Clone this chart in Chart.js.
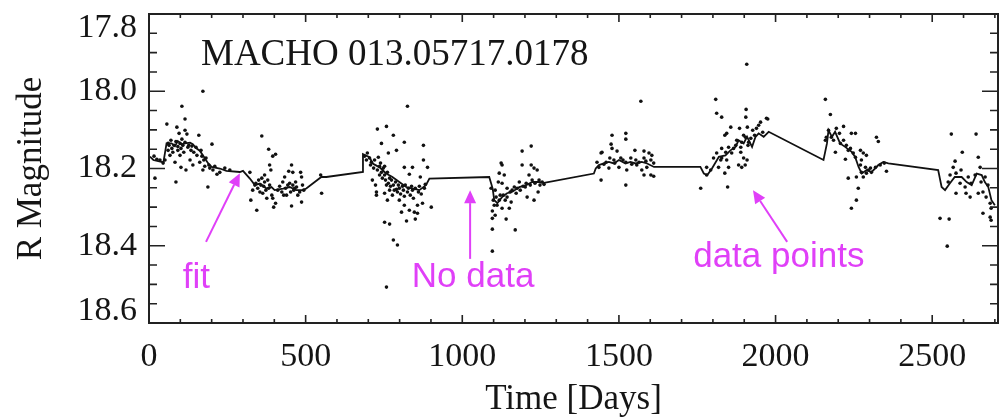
<!DOCTYPE html>
<html>
<head>
<meta charset="utf-8">
<script src="https://cdn.jsdelivr.net/npm/chart.js@4/dist/chart.umd.min.js"></script>
<style>
html,body{margin:0;padding:0;background:#fff;}
canvas{display:block;}
</style>
</head>
<body>
<canvas id="c" width="1005" height="417"></canvas>
<script>
// ---- data (day, R magnitude) ----
const season1 = [[16,18.168],[25,18.176],[19,18.225],[35,18.178],[45,18.186],[51,18.178],[57,18.085],[61,18.135],[61,18.153],[64,18.140],[67,18.166],[70,18.127],[73,18.148],[76,18.158],[80,18.140],[83,18.184],[86,18.130],[86,18.235],[89,18.093],[92,18.143],[92,18.153],[96,18.109],[99,18.135],[99,18.166],[102,18.148],[102,18.197],[105,18.039],[105,18.124],[108,18.140],[111,18.158],[115,18.072],[115,18.101],[115,18.132],[118,18.204],[121,18.111],[124,18.145],[127,18.140],[131,18.178],[134,18.153],[137,18.142],[140,18.191],[143,18.158],[150,18.145],[153,18.166],[159,18.114],[162,18.184],[166,18.153],[169,18.168],[172,18.000],[172,18.204],[175,18.178],[178,18.194],[182,18.173],[188,18.248],[191,18.191],[194,18.199],[201,18.137],[204,18.204],[210,18.194],[217,18.215],[226,18.210],[242,18.199],[258,18.204]];
const season2 = [[322,18.210],[325,18.282],[331,18.256],[338,18.243],[341,18.238],[344,18.308],[347,18.251],[350,18.230],[354,18.261],[357,18.243],[360,18.116],[360,18.225],[363,18.264],[366,18.246],[369,18.217],[369,18.235],[373,18.256],[376,18.277],[379,18.230],[382,18.150],[382,18.251],[385,18.191],[385,18.243],[389,18.204],[392,18.269],[395,18.168],[395,18.277],[398,18.300],[404,18.163],[404,18.290],[411,18.256],[417,18.246],[424,18.261],[427,18.235],[430,18.269],[433,18.222],[436,18.251],[439,18.269],[443,18.243],[446,18.207],[449,18.238],[452,18.261],[455,18.191],[455,18.297],[459,18.210],[459,18.243],[462,18.256],[465,18.251],[468,18.235],[471,18.248],[475,18.269],[481,18.261],[484,18.210],[487,18.222],[487,18.287],[490,18.243],[494,18.256],[548,18.217],[551,18.264]];
const season3 = [[688,18.168],[694,18.178],[697,18.160],[704,18.173],[707,18.191],[710,18.184],[713,18.230],[717,18.199],[720,18.178],[723,18.243],[726,18.261],[726,18.269],[729,18.098],[729,18.204],[732,18.171],[736,18.194],[736,18.217],[739,18.186],[742,18.135],[742,18.210],[745,18.225],[748,18.199],[752,18.194],[752,18.217],[752,18.264],[752,18.339],[755,18.230],[758,18.091],[758,18.243],[758,18.507],[761,18.210],[761,18.282],[764,18.160],[764,18.238],[768,18.225],[768,18.256],[768,18.344],[771,18.246],[774,18.230],[777,18.269],[780,18.114],[780,18.243],[780,18.385],[783,18.256],[787,18.235],[790,18.153],[790,18.254],[793,18.261],[793,18.398],[796,18.243],[799,18.282],[799,18.251],[803,18.266],[806,18.313],[809,18.246],[812,18.256],[815,18.132],[815,18.197],[815,18.272],[815,18.295],[818,18.243],[822,18.336],[825,18.039],[825,18.261],[828,18.251],[831,18.215],[831,18.308],[834,18.269],[838,18.246],[841,18.197],[841,18.256],[844,18.277],[847,18.313],[850,18.251],[850,18.331],[857,18.295],[857,18.316],[860,18.261],[863,18.246],[866,18.222],[869,18.266],[873,18.290],[876,18.140],[876,18.178],[879,18.251],[882,18.241],[889,18.197],[901,18.300]];
const season4 = [[1092,18.251],[1096,18.310],[1096,18.329],[1096,18.357],[1096,18.414],[1099,18.282],[1102,18.295],[1105,18.256],[1105,18.321],[1108,18.274],[1111,18.295],[1115,18.235],[1118,18.212],[1118,18.282],[1121,18.269],[1124,18.186],[1127,18.191],[1127,18.238],[1127,18.303],[1131,18.269],[1134,18.217],[1137,18.282],[1140,18.331],[1143,18.251],[1143,18.274],[1150,18.303],[1153,18.261],[1156,18.287],[1159,18.256],[1166,18.248],[1169,18.359],[1172,18.264],[1175,18.251],[1182,18.235],[1185,18.256],[1191,18.155],[1191,18.191],[1194,18.246],[1201,18.248],[1204,18.238],[1207,18.274],[1213,18.217],[1217,18.243],[1220,18.142],[1220,18.191],[1223,18.230],[1229,18.199],[1229,18.282],[1232,18.238],[1239,18.204],[1242,18.261],[1245,18.230],[1248,18.243],[1255,18.235],[1261,18.241]];
const season5 = [[1430,18.184],[1436,18.197],[1443,18.160],[1443,18.230],[1446,18.158],[1452,18.189],[1459,18.184],[1468,18.199],[1471,18.173],[1475,18.137],[1478,18.114],[1478,18.148],[1484,18.178],[1487,18.186],[1494,18.155],[1500,18.197],[1506,18.173],[1513,18.178],[1522,18.109],[1522,18.124],[1522,18.184],[1522,18.243],[1525,18.204],[1538,18.173],[1541,18.189],[1551,18.153],[1554,18.178],[1557,18.191],[1564,18.184],[1570,18.026],[1573,18.204],[1580,18.155],[1580,18.173],[1580,18.217],[1586,18.181],[1589,18.197],[1596,18.160],[1602,18.178],[1602,18.217],[1605,18.166],[1611,18.186],[1611,18.220]];
const season6 = [[1761,18.251],[1780,18.197],[1780,18.217],[1793,18.204],[1802,18.173],[1809,18.021],[1812,18.057],[1812,18.160],[1818,18.197],[1825,18.178],[1828,18.067],[1828,18.148],[1828,18.173],[1838,18.114],[1838,18.212],[1841,18.158],[1844,18.109],[1844,18.178],[1847,18.248],[1850,18.145],[1850,18.197],[1857,18.093],[1860,18.160],[1866,18.148],[1873,18.140],[1876,18.127],[1882,18.191],[1885,18.096],[1889,18.145],[1889,18.158],[1892,18.132],[1892,18.197],[1898,18.114],[1898,18.173],[1905,18.067],[1908,17.930],[1906,18.047],[1910,18.093],[1904,18.119],[1912,18.140],[1909,18.178],[1903,18.191],[1914,18.132],[1921,18.122],[1927,18.101],[1933,18.114],[1939,18.096],[1946,18.088],[1952,18.080],[1959,18.106],[1971,18.070],[1975,18.072]];
const season7 = [[2159,18.021],[2159,18.127],[2162,18.119],[2169,18.101],[2175,18.060],[2178,18.119],[2185,18.127],[2191,18.158],[2194,18.096],[2204,18.109],[2207,18.135],[2217,18.091],[2217,18.127],[2223,18.176],[2226,18.140],[2232,18.153],[2232,18.225],[2239,18.148],[2242,18.109],[2242,18.303],[2248,18.160],[2255,18.109],[2255,18.171],[2258,18.222],[2258,18.282],[2264,18.251],[2271,18.153],[2271,18.191],[2274,18.178],[2274,18.210],[2280,18.160],[2280,18.222],[2287,18.197],[2290,18.166],[2290,18.212],[2296,18.204],[2303,18.199],[2306,18.210],[2319,18.197],[2322,18.119],[2328,18.130],[2334,18.191],[2347,18.186],[2354,18.207]];
const season8 = [[2525,18.329],[2548,18.401],[2551,18.235],[2554,18.331],[2557,18.217],[2561,18.111],[2567,18.197],[2573,18.181],[2576,18.212],[2576,18.264],[2589,18.238],[2592,18.204],[2596,18.158],[2605,18.248],[2608,18.264],[2615,18.222],[2621,18.274],[2624,18.238],[2637,18.217],[2640,18.111],[2647,18.171],[2647,18.264],[2653,18.197],[2656,18.235],[2662,18.261],[2662,18.316],[2669,18.222],[2672,18.274],[2678,18.243],[2685,18.290],[2685,18.326],[2688,18.303],[2688,18.334]];

const fitDay = [3,14,46,56,72,83,92,105,115,131,140,150,162,172,189,200,226,247,290,300,322,338,354,375,391,401,428,449,470,491,502,550,566,683,683,704,714,736,757,777,799,821,842,863,884,895,1086,1097,1102,1112,1128,1143,1160,1182,1204,1224,1245,1261,1420,1426,1436,1452,1468,1484,1500,1521,1537,1553,1573,1590,1612,1760,1771,1782,1797,1819,1840,1856,1872,1882,1898,1909,1925,1936,1946,1962,1978,2153,2164,2169,2180,2190,2206,2222,2243,2254,2265,2275,2291,2307,2328,2344,2360,2519,2530,2541,2556,2572,2594,2610,2626,2642,2658,2668,2679,2689,2700];
const fitMag = [18.169,18.178,18.184,18.135,18.135,18.142,18.129,18.137,18.135,18.133,18.137,18.147,18.154,18.166,18.187,18.196,18.200,18.206,18.209,18.206,18.226,18.243,18.239,18.252,18.248,18.256,18.252,18.248,18.256,18.256,18.252,18.222,18.222,18.209,18.163,18.171,18.187,18.197,18.213,18.222,18.235,18.248,18.252,18.256,18.243,18.226,18.222,18.252,18.282,18.290,18.273,18.264,18.260,18.248,18.243,18.235,18.235,18.237,18.213,18.200,18.191,18.187,18.183,18.187,18.178,18.187,18.183,18.187,18.183,18.187,18.196,18.196,18.213,18.217,18.200,18.170,18.166,18.153,18.144,18.127,18.135,18.118,18.144,18.118,18.109,18.118,18.105,18.178,18.135,18.101,18.118,18.105,18.135,18.144,18.157,18.170,18.196,18.213,18.204,18.209,18.191,18.183,18.187,18.204,18.248,18.256,18.239,18.222,18.222,18.235,18.243,18.213,18.217,18.235,18.248,18.282,18.295];

const xTickValues = [0, 500, 1000, 1500, 2000, 2500];
const xTickLabels = ['0', '500', '1000', '1500', '2000', '2500'];
const yTickValues = [17.8, 18.0, 18.2, 18.4, 18.6];
const yTickLabels = ['17.8', '18.0', '18.2', '18.4', '18.6'];
const plotTitle = 'MACHO 013.05717.0178';
const xAxisTitle = 'Time [Days]';
const yAxisTitle = 'R Magnitude';

// annotation texts with anchors in data units
const notes = [
  {text: 'fit',         x: 108,  y: 18.509, from: [182, 18.390],  to: [290, 18.212]},
  {text: 'No data',     x: 839,  y: 18.507, from: [1025, 18.434], to: [1025, 18.256]},
  {text: 'data points', x: 1737, y: 18.455, from: [2037, 18.390], to: [1928, 18.256]}
];

const observations = [].concat(season1, season2, season3, season4, season5, season6, season7, season8);

const SERIF = '"Liberation Serif", "Times New Roman", serif';
const SANS = '"Liberation Sans", Arial, sans-serif';
const INK = '#151515';
const MAGENTA = '#e040f8';

const framePlugin = {
  id: 'idlFrame',
  afterDatasetsDraw(chart) {
    const {ctx, chartArea: a, scales: {x, y}} = chart;
    ctx.save();
    // frame
    ctx.strokeStyle = '#222';
    ctx.lineWidth = 2;
    ctx.strokeRect(a.left, a.top, a.right - a.left, a.bottom - a.top);
    // inward ticks
    ctx.lineWidth = 1.6;
    ctx.beginPath();
    for (let v = x.min; v <= x.max + 1e-6; v += 100) {
      const px = x.getPixelForValue(v);
      const len = (Math.round(v) % 500 === 0) ? 8 : 4;
      ctx.moveTo(px, a.bottom); ctx.lineTo(px, a.bottom - len);
      ctx.moveTo(px, a.top); ctx.lineTo(px, a.top + len);
    }
    const nY = Math.round((y.max - y.min) / 0.05);
    for (let i = 0; i <= nY; i++) {
      const py = y.getPixelForValue(y.min + i * 0.05);
      const len = (i % 4 === 0) ? 16 : 8;
      ctx.moveTo(a.left, py); ctx.lineTo(a.left + len, py);
      ctx.moveTo(a.right, py); ctx.lineTo(a.right - len, py);
    }
    ctx.stroke();
    // y tick labels (kept inside the frame height)
    ctx.fillStyle = INK;
    ctx.font = '34px ' + SERIF;
    ctx.textAlign = 'right';
    ctx.textBaseline = 'middle';
    yTickValues.forEach((v, i) => {
      let py = y.getPixelForValue(v);
      py = Math.min(Math.max(py, a.top + 14), a.bottom - 12);
      ctx.fillText(yTickLabels[i], a.left - 12, py);
    });
    // plot title inside frame
    ctx.textAlign = 'left';
    ctx.textBaseline = 'alphabetic';
    ctx.font = '37px ' + SERIF;
    ctx.fillText(plotTitle, x.getPixelForValue(166), y.getPixelForValue(17.932));
    // annotations
    ctx.fillStyle = MAGENTA;
    ctx.strokeStyle = MAGENTA;
    ctx.font = '35px ' + SANS;
    notes.forEach(n => {
      ctx.fillText(n.text, x.getPixelForValue(n.x), y.getPixelForValue(n.y));
      const x0 = x.getPixelForValue(n.from[0]), y0 = y.getPixelForValue(n.from[1]);
      const x1 = x.getPixelForValue(n.to[0]), y1 = y.getPixelForValue(n.to[1]);
      const ang = Math.atan2(y1 - y0, x1 - x0);
      const hl = 13, hw = 6;
      const bx = x1 - hl * Math.cos(ang), by = y1 - hl * Math.sin(ang);
      ctx.lineWidth = 2;
      ctx.beginPath();
      ctx.moveTo(x0, y0); ctx.lineTo(bx, by);
      ctx.stroke();
      ctx.beginPath();
      ctx.moveTo(x1, y1);
      ctx.lineTo(bx + hw * Math.sin(ang), by - hw * Math.cos(ang));
      ctx.lineTo(bx - hw * Math.sin(ang), by + hw * Math.cos(ang));
      ctx.closePath();
      ctx.fill();
    });
    ctx.restore();
  }
};

new Chart(document.getElementById('c'), {
  type: 'scatter',
  data: {
    datasets: [
      {
        label: 'data points',
        data: observations.map(p => ({x: p[0], y: p[1]})),
        showLine: false,
        pointRadius: 1.8,
        pointBackgroundColor: '#111',
        pointBorderWidth: 0,
        order: 2
      },
      {
        label: 'fit',
        data: fitDay.map((d, i) => ({x: d, y: fitMag[i]})),
        showLine: true,
        borderColor: '#111',
        borderWidth: 1.8,
        pointRadius: 0,
        fill: false,
        tension: 0,
        order: 1
      }
    ]
  },
  options: {
    responsive: false,
    animation: false,
    devicePixelRatio: 1,
    layout: {padding: {top: 14, right: 7, left: 0, bottom: 0}},
    plugins: {legend: {display: false}, tooltip: {enabled: false}},
    scales: {
      x: {
        type: 'linear', min: 0, max: 2710, position: 'bottom',
        grid: {display: false, drawTicks: false},
        border: {display: false},
        afterBuildTicks: s => { s.ticks = xTickValues.map(v => ({value: v})); },
        afterFit: s => { s.height = 94; },
        ticks: {
          color: INK, font: {family: SERIF, size: 34}, padding: 14, maxRotation: 0, autoSkip: false,
          callback: (v) => { const i = xTickValues.indexOf(v); return i >= 0 ? xTickLabels[i] : ''; }
        },
        title: {display: true, text: xAxisTitle, color: INK, font: {family: SERIF, size: 35, lineHeight: 1.0}, padding: {top: 0, bottom: 0}}
      },
      y: {
        type: 'linear', reverse: true, min: 17.8, max: 18.6,
        grid: {display: false, drawTicks: false},
        border: {display: false},
        ticks: {display: false},
        afterFit: s => { s.width = 149; },
        title: {display: true, text: yAxisTitle, color: INK, font: {family: SERIF, size: 35}, padding: {top: 11, bottom: 0}}
      }
    }
  },
  plugins: [framePlugin]
});
</script>
</body>
</html>
